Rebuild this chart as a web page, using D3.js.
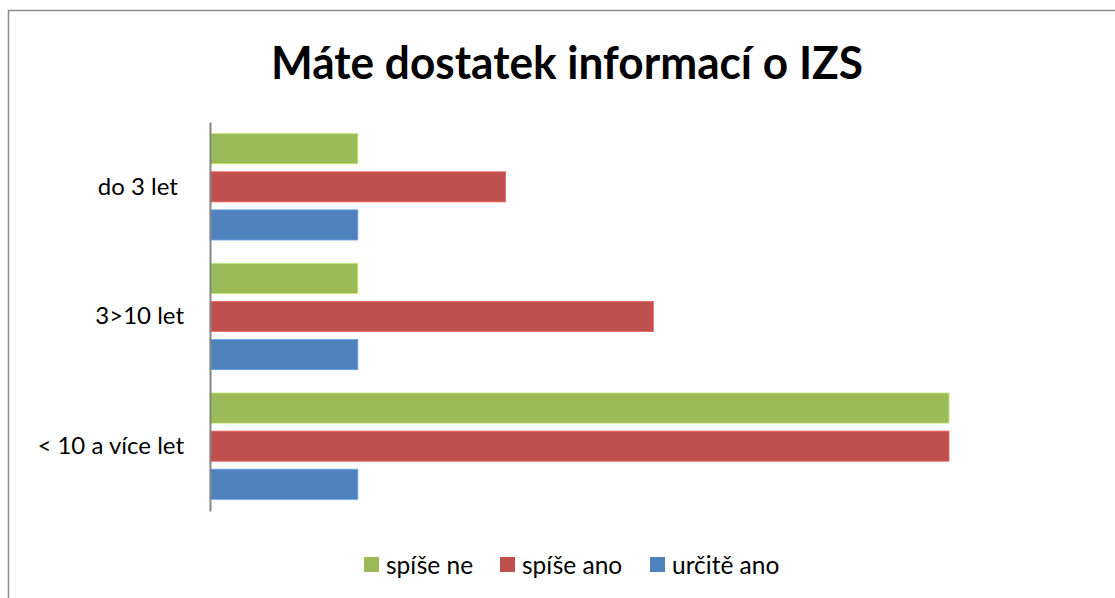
<!DOCTYPE html>
<html>
<head>
<meta charset="utf-8">
<script src="https://cdn.jsdelivr.net/npm/d3@7"></script>
<style>
  body { margin: 0; background: #fff; }
  text { font-family: Lato, "Open Sans", sans-serif; fill: #000; }
</style>
</head>
<body>
<div id="chart"></div>
<script>
// Dimensions of the page.
var width = 1115;
var height = 598;

// Chart data.
var categories = ["do 3 let ", "3>10 let", "< 10 a více let"];
var seriesNames = ["spíše ne", "spíše ano", "určitě ano"];
var seriesColors = ["#9bbb59", "#c0504d", "#4f81bd"];
var spiseNe = [1, 1, 5];
var spiseAno = [2, 3, 5];
var urciteAno = [1, 1, 1];
var seriesValues = [spiseNe, spiseAno, urciteAno];

var svg = d3.select("#chart").append("svg")
    .attr("width", width)
    .attr("height", height);

// Outer chart border
svg.append("rect")
    .attr("x", 8.5).attr("y", 10.5)
    .attr("width", width + 20).attr("height", height + 20)
    .attr("fill", "#fff")
    .attr("stroke", "#8c8c8c")
    .attr("stroke-width", 1.5);

// Title
var title = svg.append("text")
    .attr("x", 567)
    .attr("y", 79)
    .attr("text-anchor", "middle")
    .style("font-size", "45px")
    .style("font-weight", "bold")
    .text("Máte dostatek informací o IZS");
var tw = title.node().getComputedTextLength();
if (tw > 592) title.attr("textLength", 592).attr("lengthAdjust", "spacingAndGlyphs");

// Scales
var x = d3.scaleLinear().domain([0, 5]).range([210, 949]);
var y = d3.scaleBand().domain(categories).range([122, 511])
    .paddingInner(0.18).paddingOuter(0.09);
var ySub = d3.scaleBand().domain(seriesNames).range([0, y.bandwidth()])
    .paddingInner(0.21).paddingOuter(0);

// Bars
seriesNames.forEach(function(s, si) {
  svg.append("g").selectAll("rect")
      .data(categories)
      .enter().append("rect")
      .attr("x", x(0))
      .attr("y", function(c) { return y(c) + ySub(s); })
      .attr("width", function(c, i) { return x(seriesValues[si][i]) - x(0); })
      .attr("height", ySub.bandwidth())
      .attr("fill", seriesColors[si])
      .attr("stroke", d3.color(seriesColors[si]).brighter(0.6))
      .attr("stroke-width", 0.8);
});

// Category axis
var yAxis = svg.append("g")
    .attr("transform", "translate(" + x(0) + ",0)")
    .call(d3.axisLeft(y).tickSize(0).tickPadding(26));
yAxis.select(".domain").attr("stroke", "#868686").attr("stroke-width", 2);
yAxis.selectAll("text")
    .style("font-family", "Lato, 'Open Sans', sans-serif")
    .style("font-size", "24px")
    .style("white-space", "pre");

// Legend
var legendX = [364, 500, 650];
var legend = svg.append("g").selectAll("g")
    .data(seriesNames)
    .enter().append("g")
    .attr("transform", function(d, i) { return "translate(" + legendX[i] + ",557)"; });
legend.append("rect")
    .attr("width", 15).attr("height", 15)
    .attr("fill", function(d, i) { return seriesColors[i]; });
legend.append("text")
    .attr("x", 22).attr("y", 8)
    .attr("dy", "0.35em")
    .style("font-size", "24.5px")
    .text(function(d) { return d; });
</script>
</body>
</html>
